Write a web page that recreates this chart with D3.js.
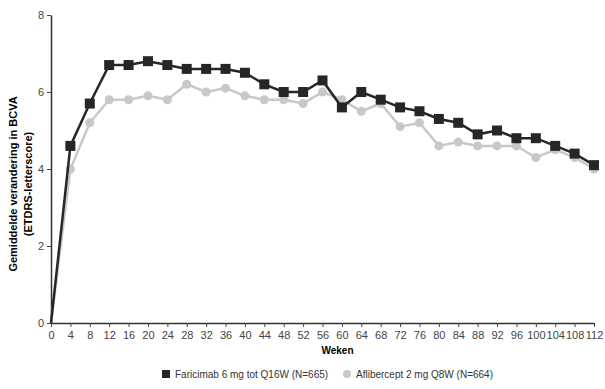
<!DOCTYPE html>
<html>
<head>
<meta charset="utf-8">
<script src="https://cdn.jsdelivr.net/npm/d3@7"></script>
<style>
  body { margin: 0; background: #fff; }
  text { font-family: "Liberation Sans", Arial, sans-serif; }
</style>
</head>
<body>
<script>
// data
var weeks = [0, 4, 8, 12, 16, 20, 24, 28, 32, 36, 40, 44, 48, 52, 56, 60, 64, 68, 72, 76, 80, 84, 88, 92, 96, 100, 104, 108, 112];
var faricimab = [0, 4.6, 5.7, 6.7, 6.7, 6.8, 6.7, 6.6, 6.6, 6.6, 6.5, 6.2, 6.0, 6.0, 6.3, 5.6, 6.0, 5.8, 5.6, 5.5, 5.3, 5.2, 4.9, 5.0, 4.8, 4.8, 4.6, 4.4, 4.1];
var aflibercept = [0, 4.0, 5.2, 5.8, 5.8, 5.9, 5.8, 6.2, 6.0, 6.1, 5.9, 5.8, 5.8, 5.7, 6.0, 5.8, 5.5, 5.7, 5.1, 5.2, 4.6, 4.7, 4.6, 4.6, 4.6, 4.3, 4.5, 4.3, 4.0];
var yTicks = [0, 2, 4, 6, 8];
var seriesNames = ["Faricimab 6 mg tot Q16W (N=665)", "Aflibercept 2 mg Q8W (N=664)"];

var W = 605, H = 389;
var margin = { top: 15, right: 11, bottom: 66, left: 51 };

var svg = d3.select("body").append("svg")
    .attr("width", W)
    .attr("height", H);

var x = d3.scaleLinear().domain([0, 112]).range([margin.left, W - margin.right]);
var y = d3.scaleLinear().domain([0, 8]).range([H - margin.bottom, margin.top]);

// axes
var xAxis = svg.append("g")
    .attr("transform", "translate(0," + y(0) + ")")
    .call(d3.axisBottom(x).tickValues(weeks).tickSize(4).tickSizeOuter(0));
var yAxis = svg.append("g")
    .attr("transform", "translate(" + x(0) + ",0)")
    .call(d3.axisLeft(y).tickValues(yTicks).tickSize(4).tickSizeOuter(0));

[xAxis, yAxis].forEach(function (g) {
    g.select(".domain").attr("stroke", "#333").attr("stroke-width", 1.5);
    g.selectAll(".tick line").attr("stroke", "#444");
    g.selectAll(".tick text")
        .attr("fill", "#444")
        .style("font-size", "11px")
        .style("font-family", "Liberation Sans, Arial, sans-serif");
});
xAxis.selectAll(".tick text").attr("dy", "0.85em");

// axis titles
svg.append("text")
    .attr("x", x(56) + 15)
    .attr("y", 354)
    .attr("text-anchor", "middle")
    .style("font-size", "10px")
    .style("font-weight", "bold")
    .text("Weken");

var yl = svg.append("text")
    .attr("transform", "translate(17,184) rotate(-90)")
    .attr("text-anchor", "middle")
    .style("font-size", "11px")
    .style("font-weight", "bold");
yl.append("tspan").attr("x", 0).attr("dy", 0).text("Gemiddelde verandering in BCVA");
yl.append("tspan").attr("x", 0).attr("dy", "1.35em").text("(ETDRS-letterscore)");

var line = d3.line()
    .x(function (d) { return x(d[0]); })
    .y(function (d) { return y(d[1]); });

var afPts = weeks.map(function (w, i) { return [w, aflibercept[i]]; });
var faPts = weeks.map(function (w, i) { return [w, faricimab[i]]; });

// aflibercept (grey, circles)
svg.append("path")
    .datum(afPts)
    .attr("fill", "none")
    .attr("stroke", "#c8c8c8")
    .attr("stroke-width", 2.5)
    .attr("d", line);
svg.append("g").selectAll("circle")
    .data(afPts.slice(1))
    .enter().append("circle")
    .attr("cx", function (d) { return x(d[0]); })
    .attr("cy", function (d) { return y(d[1]); })
    .attr("r", 4.5)
    .attr("fill", "#c8c8c8");

// faricimab (dark, squares)
svg.append("path")
    .datum(faPts)
    .attr("fill", "none")
    .attr("stroke", "#262626")
    .attr("stroke-width", 2.5)
    .attr("d", line);
svg.append("g").selectAll("rect")
    .data(faPts.slice(1))
    .enter().append("rect")
    .attr("x", function (d) { return x(d[0]) - 5; })
    .attr("y", function (d) { return y(d[1]) - 5; })
    .attr("width", 10)
    .attr("height", 10)
    .attr("fill", "#262626");

// legend
var legend = svg.append("g").attr("transform", "translate(0,374)");
legend.append("rect")
    .attr("x", 162).attr("y", -4)
    .attr("width", 8).attr("height", 8)
    .attr("fill", "#262626");
legend.append("text")
    .attr("x", 175).attr("y", 4)
    .style("font-size", "10px")
    .attr("fill", "#333")
    .text(seriesNames[0]);
legend.append("circle")
    .attr("cx", 347).attr("cy", 0)
    .attr("r", 4)
    .attr("fill", "#c8c8c8");
legend.append("text")
    .attr("x", 356).attr("y", 4)
    .style("font-size", "10px")
    .attr("fill", "#333")
    .text(seriesNames[1]);
</script>
</body>
</html>
